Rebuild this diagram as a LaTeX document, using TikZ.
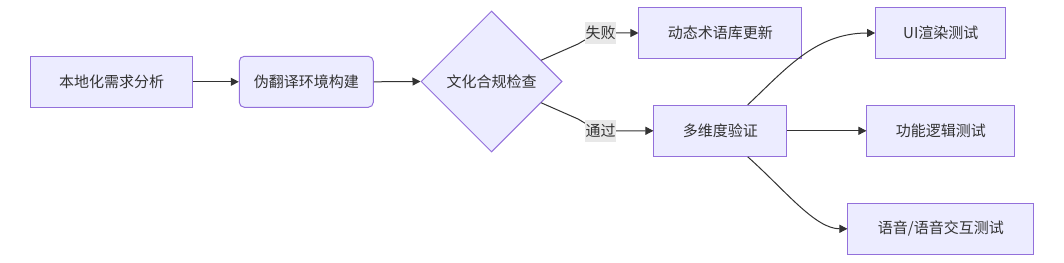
\documentclass[tikz,border=0pt]{standalone}
\usepackage{fontspec}
\newfontfamily\cjk{Noto Sans CJK SC}
\usetikzlibrary{shapes.geometric,arrows.meta,calc}
\definecolor{nodefill}{HTML}{ECECFF}
\definecolor{nodeline}{HTML}{9370DB}
\definecolor{edgecol}{HTML}{333333}
\definecolor{lblbg}{HTML}{E8E8E8}
\begin{document}
\begin{tikzpicture}[x=1pt,y=-1pt,
  font=\cjk\fontsize{15pt}{18pt}\selectfont,
  every node/.style={text=edgecol},
  box/.style={draw=nodeline,fill=nodefill,line width=1pt,minimum height=51pt,inner sep=0pt},
  rbox/.style={box,rounded corners=5pt},
  dia/.style={draw=nodeline,fill=nodefill,line width=1pt,diamond,shape aspect=1,minimum width=141pt,minimum height=141pt,inner sep=0pt},
  edge/.style={draw=edgecol,line width=1pt,-{Triangle[length=8pt,width=8pt]}},
  lbl/.style={fill=lblbg,inner sep=0pt,minimum width=31pt,minimum height=22pt}]
\useasboundingbox (0,0) rectangle (1064,262);
\node[box,minimum width=162.4pt] (A) at (111.5,81.8) {本地化需求分析};
\node[rbox,minimum width=134pt] (B) at (306.3,81.8) {伪翻译环境构建};
\node[dia] (C) at (491.5,81.5) {文化合规检查};
\node[box,minimum width=162.7pt] (D) at (720.3,33) {动态术语库更新};
\node[box,minimum width=132.7pt] (E) at (720.3,130.8) {多维度验证};
\node[box,minimum width=130.3pt] (F) at (940.8,33) {UI渲染测试};
\node[box,minimum width=147.7pt] (G) at (940.8,130.8) {功能逻辑测试};
\node[box,minimum width=185.7pt] (H) at (940.8,228.8) {语音/语音交互测试};
\coordinate (c1) at ($(C.north)!0.7!(C.east)$);
\coordinate (c2) at ($(C.south)!0.7!(C.east)$);
\coordinate (e1) at ([xshift=27.4pt]E.north);
\coordinate (e2) at ([xshift=27.4pt]E.south);
\draw[edge] (A.east) -- (B.west);
\draw[edge] (B.east) -- (C.west);
\draw[edge] (c1) -- (578,44) .. controls (590,37) and (596,33) .. (610,33) -- (D.west);
\draw[edge] (c2) -- (578,119) .. controls (590,126) and (596,130.8) .. (610,130.8) -- (E.west);
\draw[edge] (e1) .. controls (785,70) and (815,33) .. (F.west);
\draw[edge] (E.east) -- (G.west);
\draw[edge] (e2) .. controls (785,190) and (815,228.8) .. (H.west);
\node[lbl] (L1) at (600.5,33) {失败};
\node[lbl] (L2) at (600.5,130.8) {通过};
\end{tikzpicture}
\end{document}
